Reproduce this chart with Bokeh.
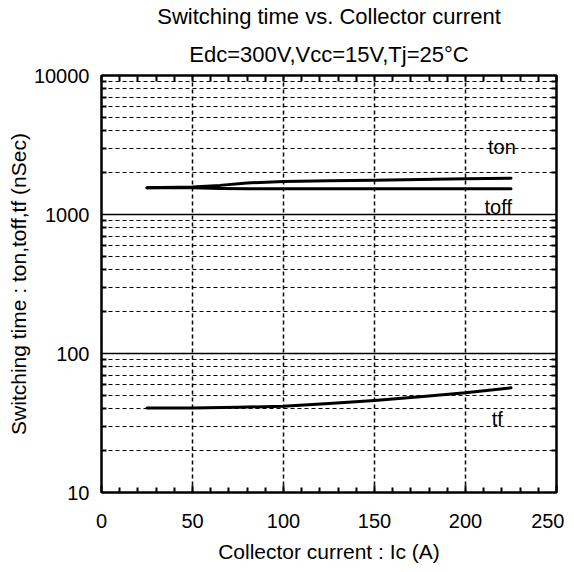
from bokeh.plotting import figure
from bokeh.models import Range1d, LinearAxis, LogAxis, FixedTicker, Label, Title
from bokeh.embed import file_html
from bokeh.resources import INLINE

# ---- data ----
ton_x = [25, 50, 65, 80, 100, 125, 150, 175, 200, 225]
ton_y = [1560, 1580, 1620, 1685, 1730, 1750, 1765, 1785, 1810, 1820]
toff_x = [25, 50, 65, 80, 100, 150, 200, 225]
toff_y = [1560, 1560, 1540, 1530, 1530, 1530, 1530, 1530]
tf_x = [25, 50, 75, 100, 125, 150, 175, 200, 225]
tf_y = [40.6, 40.6, 41.0, 41.8, 43.6, 45.9, 48.8, 52.1, 56.6]

x_ticks = [0, 50, 100, 150, 200, 250]
x_minor = [v for v in range(0, 251, 10) if v % 50 != 0]
y_ticks = [10, 100, 1000, 10000]
y_tick_labels = ["10", "100", "1000", "10000"]
y_minor = [m * d for d in (10, 100, 1000) for m in range(2, 10)]

title1 = "Switching time vs. Collector current"
title2 = "Edc=300V,Vcc=15V,Tj=25°C"
x_label = "Collector current : Ic (A)"
y_label = "Switching time : ton,toff,tf (nSec)"
series_names = ["ton", "toff", "tf"]

FONT = "Liberation Sans"
X0, X1, Y0, Y1 = 0, 250, 10, 10000

p = figure(frame_width=455, frame_height=417, x_range=Range1d(X0, X1), y_range=Range1d(Y0, Y1),
           y_axis_type="log", output_backend="svg", toolbar_location=None, title=None,
           min_border_left=101, min_border_right=8, min_border_top=10, min_border_bottom=10)
p.outline_line_color = "black"
p.outline_line_width = 2
p.background_fill_color = "white"
p.border_fill_color = "white"

xt = FixedTicker(ticks=x_ticks, minor_ticks=x_minor)
yt = FixedTicker(ticks=y_ticks, minor_ticks=y_minor)

# bottom axis
xa = p.xaxis[0]
xa.ticker = xt
xa.axis_label = x_label
xa.axis_label_text_font = FONT
xa.axis_label_text_font_size = "21px"
xa.axis_label_text_font_style = "normal"
xa.axis_label_text_color = "black"
xa.axis_label_standoff = 9
xa.major_label_text_font = FONT
xa.major_label_text_font_size = "20px"
xa.major_label_text_color = "black"
xa.major_label_standoff = 21
xa.axis_line_width = 2
xa.major_tick_in = 7
xa.major_tick_out = 0
xa.minor_tick_in = 5
xa.minor_tick_out = 0
xa.major_tick_line_width = 2
xa.minor_tick_line_width = 2

# left axis
ya = p.yaxis[0]
ya.ticker = yt
ya.major_label_overrides = {t: s for t, s in zip(y_ticks, y_tick_labels)}
ya.axis_label = y_label
ya.axis_label_text_font = FONT
ya.axis_label_text_font_size = "21px"
ya.axis_label_text_font_style = "normal"
ya.axis_label_text_color = "black"
ya.axis_label_standoff = 1
ya.major_label_text_font = FONT
ya.major_label_text_font_size = "20px"
ya.major_label_text_color = "black"
ya.major_label_standoff = 12
ya.axis_line_width = 2
ya.major_tick_in = 0
ya.major_tick_out = 0
ya.minor_tick_in = 5
ya.minor_tick_out = 0
ya.minor_tick_line_width = 2

# top & right axes: ticks only (no major ticks => no labels)
top = LinearAxis(ticker=FixedTicker(ticks=[], minor_ticks=x_minor + x_ticks),
                 axis_line_width=2, major_tick_in=0, major_tick_out=0,
                 minor_tick_in=6, minor_tick_out=0, minor_tick_line_width=2,
                 major_label_standoff=0, axis_label_standoff=0)
p.add_layout(top, "above")
right = LogAxis(ticker=FixedTicker(ticks=[], minor_ticks=y_minor),
                axis_line_width=2, major_tick_in=0, major_tick_out=0,
                minor_tick_in=5, minor_tick_out=0, minor_tick_line_width=2,
                major_label_standoff=0, axis_label_standoff=0)
p.add_layout(right, "right")

# titles (closest to the frame first)
p.add_layout(Title(text=title2, align="center", text_font=FONT, text_font_size="22px",
                   text_font_style="normal", text_color="black", standoff=18), "above")
p.add_layout(Title(text=title1, align="center", text_font=FONT, text_font_size="22px",
                   text_font_style="normal", text_color="black", standoff=3), "above")

# grids
p.xgrid.ticker = xt
p.xgrid.grid_line_color = "black"
p.xgrid.grid_line_dash = "4 3"
p.xgrid.grid_line_width = 1.5
p.ygrid.ticker = yt
p.ygrid.grid_line_color = "black"
p.ygrid.grid_line_width = 1.5
p.ygrid.minor_grid_line_color = "black"
p.ygrid.minor_grid_line_dash = "4 3"
p.ygrid.minor_grid_line_width = 1

# data
for xs, ys in ((ton_x, ton_y), (toff_x, toff_y), (tf_x, tf_y)):
    p.line(xs, ys, line_color="black", line_width=3, line_join="round", line_cap="round")

# series labels
for name, lx, ly in zip(series_names, [220, 218, 217.5], [3080, 1140, 34]):
    p.add_layout(Label(x=lx, y=ly, text=name, text_align="center", text_baseline="middle",
                       text_font=FONT, text_font_size="20px", text_color="black"))

open("out.html", "w").write(file_html(p, INLINE))
